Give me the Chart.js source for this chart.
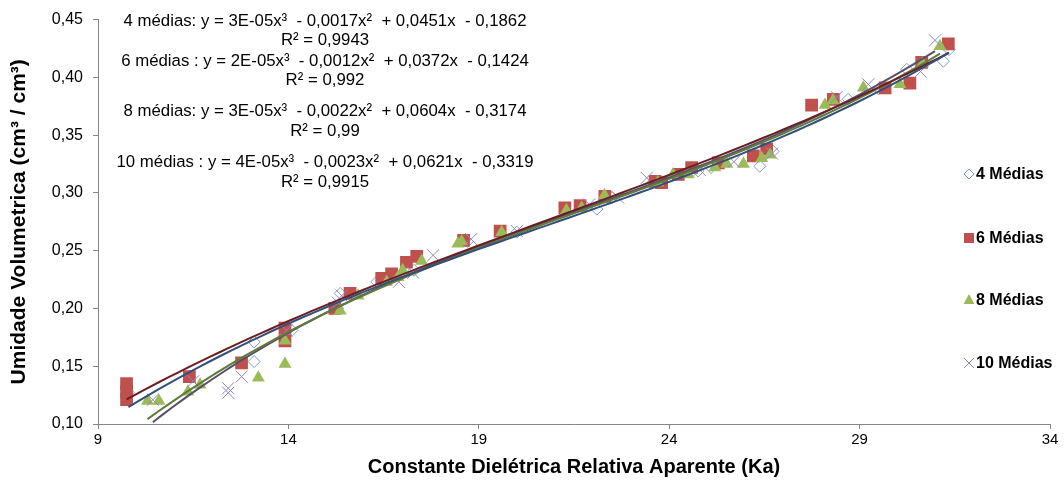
<!DOCTYPE html>
<html>
<head>
<meta charset="utf-8">
<script src="https://cdn.jsdelivr.net/npm/chart.js@4.4.1/dist/chart.umd.min.js"></script>
<style>
html,body{margin:0;padding:0;background:#fff;}
#c{display:block;}
</style>
</head>
<body>
<canvas id="c" width="1064" height="481"></canvas>
<script>
// ---- data (Ka, volumetric water content) ----
const k4 = [9.8, 11.4, 13.1, 13.1, 14.09, 15.36, 16.32, 17.3, 18.7, 20.0, 22.1, 22.5, 23.6, 24.76, 25.1, 26.38, 26.73, 28.7, 29.5, 30.24, 31.2, 31.35];
const v4 = [0.127, 0.141, 0.154, 0.171, 0.181, 0.213, 0.223, 0.233, 0.258, 0.266, 0.286, 0.296, 0.310, 0.319, 0.322, 0.323, 0.336, 0.381, 0.390, 0.407, 0.414, 0.424];

const k6 = [9.75, 9.75, 9.75, 11.40, 12.77, 13.91, 13.91, 15.22, 15.62, 16.45, 16.71, 17.1, 17.37, 18.6, 19.56, 21.26, 21.66, 22.31, 23.63, 23.8, 24.24, 24.59, 25.29, 26.21, 26.56, 27.74, 28.31, 29.67, 30.32, 30.63, 31.33];
const v6 = [0.135, 0.128, 0.121, 0.141, 0.153, 0.183, 0.172, 0.200, 0.213, 0.226, 0.230, 0.240, 0.245, 0.259, 0.267, 0.287, 0.289, 0.297, 0.310, 0.309, 0.316, 0.322, 0.326, 0.332, 0.338, 0.376, 0.381, 0.391, 0.395, 0.413, 0.429];

const k8 = [10.3, 10.6, 11.36, 11.68, 13.21, 13.91, 13.91, 15.36, 15.83, 16.58, 16.88, 17.0, 17.5, 18.45, 18.55, 19.6, 21.3, 21.7, 22.3, 23.7, 24.1, 24.5, 25.2, 25.51, 25.95, 26.43, 26.65, 28.09, 28.3, 29.1, 30.06, 30.65, 31.11];
const v8 = [0.120, 0.120, 0.128, 0.134, 0.140, 0.172, 0.152, 0.198, 0.211, 0.223, 0.227, 0.233, 0.241, 0.256, 0.258, 0.266, 0.285, 0.287, 0.298, 0.309, 0.316, 0.316, 0.322, 0.325, 0.325, 0.330, 0.333, 0.376, 0.380, 0.391, 0.394, 0.412, 0.427];

const k10 = [10.44, 11.5, 12.42, 12.42, 12.77, 13.95, 15.3, 15.4, 16.9, 17.28, 17.8, 18.8, 20.0, 21.9, 22.66, 23.41, 24.8, 25.7, 26.7, 28.4, 29.23, 30.6, 30.98];
const v10 = [0.121, 0.137, 0.131, 0.127, 0.141, 0.181, 0.205, 0.211, 0.223, 0.231, 0.246, 0.260, 0.267, 0.290, 0.296, 0.313, 0.320, 0.327, 0.334, 0.383, 0.394, 0.405, 0.432];

const seriesNames = ['4 Médias', '6 Médias', '8 Médias', '10 Médias'];
const equationLines = [
  '4 médias: y = 3E-05x³  - 0,0017x²  + 0,0451x  - 0,1862',
  'R² = 0,9943',
  '6 médias : y = 2E-05x³  - 0,0012x²  + 0,0372x  - 0,1424',
  'R² = 0,992',
  '8 médias: y = 3E-05x³  - 0,0022x²  + 0,0604x  - 0,3174',
  'R² = 0,99',
  '10 médias : y = 4E-05x³  - 0,0023x²  + 0,0621x  - 0,3319',
  'R² = 0,9915'
];
const xTickValues = [9, 14, 19, 24, 29, 34];
const yTickValues = [0.10, 0.15, 0.20, 0.25, 0.30, 0.35, 0.40, 0.45];
const xTitle = 'Constante Dielétrica Relativa Aparente (Ka)';
const yTitle = 'Umidade Volumetrica (cm³ / cm³)';

// ---- styles ----
const markerColors = ['#7f9bcc', '#c0504d', '#9bbb59', '#9385bd'];
const trendColors = ['#34507a', '#6a1e24', '#5f7a3c', '#585068'];
const FONT = '"Liberation Sans", Arial, sans-serif';

function pts(xs, ys) { return xs.map((x, i) => ({x: x, y: ys[i]})); }

// least-squares cubic trendline (as Excel's polynomial trendline)
function cubicTrend(xs, ys) {
  const n = xs.length;
  const m = xs.reduce((a, b) => a + b, 0) / n;
  const s = Math.sqrt(xs.reduce((a, b) => a + (b - m) * (b - m), 0) / n);
  const ts = xs.map(x => (x - m) / s);
  const A = [[0,0,0,0],[0,0,0,0],[0,0,0,0],[0,0,0,0]];
  const B = [0,0,0,0];
  for (let i = 0; i < n; i++) {
    const p = [1, ts[i], ts[i]*ts[i], ts[i]*ts[i]*ts[i]];
    for (let r = 0; r < 4; r++) {
      B[r] += p[r] * ys[i];
      for (let c = 0; c < 4; c++) A[r][c] += p[r] * p[c];
    }
  }
  for (let col = 0; col < 4; col++) {
    let piv = col;
    for (let r = col + 1; r < 4; r++) if (Math.abs(A[r][col]) > Math.abs(A[piv][col])) piv = r;
    [A[col], A[piv]] = [A[piv], A[col]]; [B[col], B[piv]] = [B[piv], B[col]];
    for (let r = 0; r < 4; r++) {
      if (r === col) continue;
      const f = A[r][col] / A[col][col];
      for (let c = col; c < 4; c++) A[r][c] -= f * A[col][c];
      B[r] -= f * B[col];
    }
  }
  const coef = B.map((b, i) => b / A[i][i]);
  const lo = Math.min(...xs), hi = Math.max(...xs);
  const out = [];
  const N = 80;
  for (let i = 0; i <= N; i++) {
    const x = lo + (hi - lo) * i / N;
    const t = (x - m) / s;
    out.push({x: x, y: coef[0] + coef[1]*t + coef[2]*t*t + coef[3]*t*t*t});
  }
  return out;
}

const allK = [k4, k6, k8, k10];
const allV = [v4, v6, v8, v10];

const markerDefs = [
  {pointStyle: 'rectRot', radius: 6, bg: 'rgba(255,255,255,0)', bw: 1},
  {pointStyle: 'rect', radius: 9, bg: markerColors[1], bw: 0},
  {pointStyle: 'triangle', radius: 7.5, bg: markerColors[2], bw: 0},
  {pointStyle: 'crossRot', radius: 8.5, bg: 'rgba(0,0,0,0)', bw: 1}
];

const datasets = [];
for (let i = 0; i < 4; i++) {
  datasets.push({
    label: seriesNames[i],
    data: pts(allK[i], allV[i]),
    pointStyle: markerDefs[i].pointStyle,
    pointRadius: markerDefs[i].radius,
    pointHoverRadius: markerDefs[i].radius,
    backgroundColor: markerDefs[i].bg,
    borderColor: markerColors[i],
    borderWidth: markerDefs[i].bw,
    showLine: false,
    order: 4 - i
  });
}
for (let i = 0; i < 4; i++) {
  datasets.push({
    label: 'trend ' + seriesNames[i],
    data: cubicTrend(allK[i], allV[i]),
    showLine: true,
    pointRadius: 0,
    borderColor: trendColors[i],
    borderWidth: 2,
    tension: 0,
    fill: false,
    order: 0
  });
}

const fmt = v => v.toFixed(2).replace('.', ',');

const textPlugin = {
  id: 'texts',
  afterDraw(chart) {
    const ctx = chart.ctx;
    ctx.save();
    // equations
    ctx.fillStyle = '#000';
    ctx.font = '16.8px ' + FONT;
    ctx.textAlign = 'center';
    ctx.textBaseline = 'middle';
    const eqY = [21, 40, 61, 80, 111, 131, 162, 182];
    equationLines.forEach((t, i) => ctx.fillText(t, 325, eqY[i]));
    // legend
    const legY = [174, 238, 300, 363];
    const mx = 969;
    ctx.textAlign = 'left';
    ctx.font = 'bold 16px ' + FONT;
    for (let i = 0; i < 4; i++) {
      const y = legY[i];
      ctx.beginPath();
      if (i === 0) {
        ctx.strokeStyle = markerColors[0]; ctx.lineWidth = 1;
        ctx.moveTo(mx - 5, y); ctx.lineTo(mx, y - 5); ctx.lineTo(mx + 5, y); ctx.lineTo(mx, y + 5); ctx.closePath(); ctx.stroke();
      } else if (i === 1) {
        ctx.fillStyle = markerColors[1]; ctx.fillRect(mx - 5, y - 5, 10, 10);
      } else if (i === 2) {
        ctx.fillStyle = markerColors[2];
        ctx.moveTo(mx, y - 6); ctx.lineTo(mx + 5.5, y + 4); ctx.lineTo(mx - 5.5, y + 4); ctx.closePath(); ctx.fill();
      } else {
        ctx.strokeStyle = markerColors[3]; ctx.lineWidth = 1;
        ctx.moveTo(mx - 5, y - 5); ctx.lineTo(mx + 5, y + 5); ctx.moveTo(mx + 5, y - 5); ctx.lineTo(mx - 5, y + 5); ctx.stroke();
      }
      ctx.fillStyle = '#000';
      ctx.fillText(seriesNames[i], mx + 7, y + 1);
    }
    ctx.restore();
  }
};

new Chart(document.getElementById('c'), {
  type: 'scatter',
  data: {datasets: datasets},
  options: {
    responsive: false,
    animation: false,
    events: [],
    layout: {padding: {left: 0, right: 14, top: 19, bottom: 0}},
    plugins: {legend: {display: false}, tooltip: {enabled: false}},
    scales: {
      x: {
        type: 'linear',
        min: xTickValues[0],
        max: xTickValues[xTickValues.length - 1],
        afterBuildTicks: s => { s.ticks = xTickValues.map(v => ({value: v})); },
        afterFit: s => { s.height = 57; },
        grid: {drawOnChartArea: false, drawTicks: true, tickLength: 5, color: '#868686'},
        border: {color: '#868686', width: 1},
        ticks: {
          color: '#000', padding: 2, maxRotation: 0, autoSkip: false,
          font: {family: FONT, size: 15},
          callback: v => String(v)
        },
        title: {
          display: true, text: xTitle, color: '#000',
          font: {family: FONT, size: 20, weight: 'bold'},
          padding: {top: 2, bottom: 2}
        }
      },
      y: {
        type: 'linear',
        min: yTickValues[0],
        max: yTickValues[yTickValues.length - 1],
        afterBuildTicks: s => { s.ticks = yTickValues.map(v => ({value: v})); },
        afterFit: s => { s.width = 98; },
        grid: {drawOnChartArea: false, drawTicks: true, tickLength: 5, color: '#868686'},
        border: {color: '#868686', width: 1},
        ticks: {
          color: '#000', padding: 10, autoSkip: false,
          font: {family: FONT, size: 16},
          callback: v => fmt(v)
        },
        title: {
          display: true, text: yTitle, color: '#000',
          font: {family: FONT, size: 21, weight: 'bold'},
          padding: {top: 7, bottom: 4}
        }
      }
    }
  },
  plugins: [textPlugin]
});
</script>
</body>
</html>
